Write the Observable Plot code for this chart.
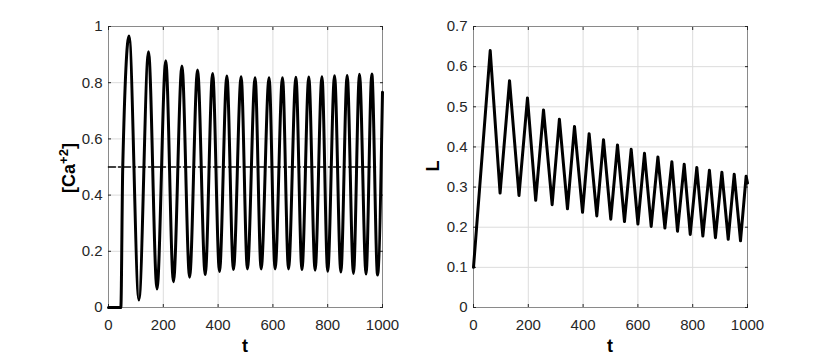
<!DOCTYPE html>
<html><head><meta charset="utf-8">
<script src="https://cdn.jsdelivr.net/npm/d3@7"></script>
<script src="https://cdn.jsdelivr.net/npm/@observablehq/plot@0.6"></script>
<style>
body{margin:0;background:#fff;}
#wrap{position:relative;width:830px;height:356px;overflow:hidden;}
#wrap svg{position:absolute;top:0;}
</style></head><body><div id="wrap"></div>
<script>
// ---- data ----
const caT = [0, 45, 52, 75, 111, 146, 177, 209, 237, 268, 296, 325, 353, 380, 405, 432, 456, 484, 507, 535, 557, 586, 608, 635, 657, 684, 706, 731, 754, 779, 800, 825, 848, 871, 894, 916, 940, 961, 982, 1000];
const caV = [0, 0, 0.5, 0.966, 0.027, 0.910, 0.066, 0.878, 0.092, 0.859, 0.108, 0.845, 0.117, 0.833, 0.128, 0.824, 0.135, 0.821, 0.137, 0.818, 0.137, 0.818, 0.137, 0.818, 0.137, 0.819, 0.135, 0.820, 0.133, 0.821, 0.129, 0.825, 0.126, 0.826, 0.121, 0.830, 0.119, 0.831, 0.116, 0.766];
const lT = [0, 61, 97, 131.5, 166, 197, 227, 255.5, 287, 313.5, 343, 368.6, 398, 422, 450, 474.5, 501, 525.5, 551, 575.5, 600, 624, 648.5, 673, 698.5, 724, 744.5, 769, 791, 815, 837, 861, 883, 906.5, 929.6, 951.5, 974.5, 995, 1000];
const lV = [0.100, 0.640, 0.285, 0.565, 0.279, 0.522, 0.267, 0.492, 0.256, 0.469, 0.246, 0.451, 0.237, 0.433, 0.228, 0.418, 0.220, 0.405, 0.214, 0.394, 0.208, 0.384, 0.202, 0.375, 0.198, 0.363, 0.190, 0.357, 0.182, 0.349, 0.178, 0.342, 0.174, 0.337, 0.170, 0.332, 0.166, 0.327, 0.310];
const thresholdV = [0.5];
const thresholdT = [0, 982];
const xTicks = [0, 200, 400, 600, 800, 1000];
const caTicks = [0, 0.2, 0.4, 0.6, 0.8, 1];
const lTicks = [0, 0.1, 0.2, 0.3, 0.4, 0.5, 0.6, 0.7];
const xLabel = "t";
const lLabel = "L";

const caData = caT.map((t, i) => ({t, v: caV[i]}));
const lData = lT.map((t, i) => ({t, v: lV[i]}));
const thrData = thresholdT.map(t => ({t, v: thresholdV[0]}));

const FONT = "'Liberation Sans', Arial, Helvetica, sans-serif";
const AX = "#262626";

function panel({data, yDomain, yTicks, marginLeft, marginRight, curve, extra = []}) {
  return Plot.plot({
    width: 415, height: 356,
    marginTop: 26, marginBottom: 49, marginLeft, marginRight,
    style: {fontFamily: FONT, fontSize: "15px", color: AX, background: "transparent"},
    x: {domain: [0, 1000]},
    y: {domain: yDomain},
    marks: [
      Plot.gridX(xTicks, {stroke: "#dcdcdc", strokeOpacity: 1}),
      Plot.gridY(yTicks, {stroke: "#dcdcdc", strokeOpacity: 1}),
      Plot.frame({stroke: "#8a8a8a"}),
      Plot.axisX(xTicks, {anchor: "bottom", tickSize: 0, tickPadding: 12, label: null, tickFormat: d => String(d)}),
      Plot.axisX(xTicks, {anchor: "bottom", tickSize: -3, label: null, tickFormat: () => "", stroke: AX}),
      Plot.axisX(xTicks, {anchor: "top", tickSize: -3, label: null, tickFormat: () => "", stroke: AX}),
      Plot.axisY(yTicks, {anchor: "left", tickSize: 0, tickPadding: 6, label: null, tickFormat: d => String(d)}),
      Plot.axisY(yTicks, {anchor: "left", tickSize: -3, label: null, tickFormat: () => "", stroke: AX}),
      Plot.axisY(yTicks, {anchor: "right", tickSize: -3, label: null, tickFormat: () => "", stroke: AX}),
      ...extra,
      Plot.line(data, {x: "t", y: "v", stroke: "black", strokeWidth: 3, curve, strokeLinejoin: "round", strokeLinecap: "round"})
    ]
  });
}

const left = panel({
  data: caData, yDomain: [0, 1], yTicks: caTicks, marginLeft: 108, marginRight: 33, curve: "monotone-x",
  extra: [Plot.line(thrData, {x: "t", y: "v", stroke: "black", strokeWidth: 1.6, strokeDasharray: "7,3,2,3"})]
});
const right = panel({
  data: lData, yDomain: [0, 0.7], yTicks: lTicks, marginLeft: 58, marginRight: 83, curve: "linear"
});
left.style.left = "0px";
right.style.left = "415px";
const wrap = document.getElementById("wrap");
wrap.appendChild(left);
wrap.appendChild(right);

// axis titles
function title(svg, x, y, rotate, parts) {
  const t = d3.select(svg).append("text")
    .attr("transform", `translate(${x},${y})` + (rotate ? " rotate(-90)" : ""))
    .attr("text-anchor", "middle")
    .attr("font-family", FONT).attr("font-weight", "bold").attr("font-size", 18).attr("fill", "black");
  parts.forEach(p => {
    const s = t.append("tspan").text(p.text);
    if (p.size) s.attr("font-size", p.size);
    if (p.dy) s.attr("dy", p.dy);
  });
}
title(left, 245, 352, false, [{text: xLabel}]);
title(right, 610 - 415, 352, false, [{text: xLabel}]);
title(right, 439 - 415, 166, true, [{text: lLabel}]);
title(left, 75, 168, true, [{text: "[Ca"}, {text: "+2", size: 13, dy: -7}, {text: "]", dy: 7}]);
</script></body></html>
